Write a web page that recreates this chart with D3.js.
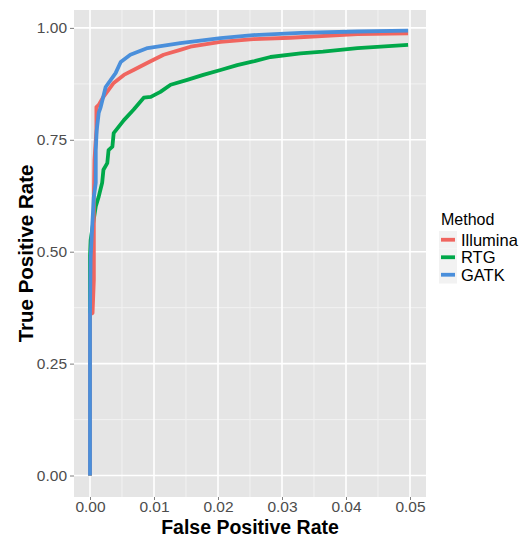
<!DOCTYPE html>
<html>
<head>
<meta charset="utf-8">
<script src="https://cdn.jsdelivr.net/npm/d3@7"></script>
<style>
  body { margin: 0; background: #fff; }
  text { font-family: "Liberation Sans", Arial, sans-serif; }
</style>
</head>
<body>
<script>
var width = 527;
var height = 538;

// ROC points: [false positive rate, true positive rate]
var methods = ["Illumina", "RTG", "GATK"];
var colors = ["#f0655f", "#00a84a", "#4a8fdb"];

var illumina = [
  [0, 0], [0, 0.36], [0.0004, 0.363], [0.0006, 0.437], [0.0006, 0.622], [0.0007, 0.705],
  [0.001, 0.772], [0.001, 0.823], [0.00136, 0.828], [0.0021, 0.846], [0.0037, 0.877],
  [0.0053, 0.895], [0.0068, 0.906], [0.009, 0.922], [0.0115, 0.94], [0.0141, 0.951],
  [0.0157, 0.958], [0.0204, 0.969], [0.0255, 0.975], [0.0313, 0.978], [0.0418, 0.986],
  [0.0497, 0.988]
];
var rtg = [
  [0, 0], [0, 0.49], [0.0001, 0.526], [0.0005, 0.564], [0.0009, 0.601], [0.00136, 0.623],
  [0.0019, 0.654], [0.0021, 0.683], [0.0027, 0.698], [0.0029, 0.727], [0.0035, 0.735],
  [0.0037, 0.765], [0.0053, 0.794], [0.0068, 0.817], [0.0084, 0.844], [0.0095, 0.846],
  [0.011, 0.857], [0.0126, 0.873], [0.0152, 0.884], [0.0177, 0.895], [0.0204, 0.906],
  [0.023, 0.917], [0.0255, 0.925], [0.0282, 0.935], [0.0329, 0.943], [0.0364, 0.947],
  [0.0418, 0.955], [0.0497, 0.962]
];
var gatk = [
  [0, 0], [0, 0.363], [0.0001, 0.488], [0.0004, 0.571], [0.0006, 0.622], [0.0009, 0.654],
  [0.0009, 0.727], [0.00105, 0.772], [0.00136, 0.81], [0.00167, 0.823], [0.00245, 0.868],
  [0.004, 0.899], [0.0048, 0.924], [0.0063, 0.94], [0.009, 0.955], [0.0141, 0.966],
  [0.0204, 0.977], [0.0255, 0.984], [0.0329, 0.989], [0.0418, 0.992], [0.0497, 0.994]
];

var xTicks = [0, 0.01, 0.02, 0.03, 0.04, 0.05];
var yTicks = [0, 0.25, 0.5, 0.75, 1];
var xMinor = [0.005, 0.015, 0.025, 0.035, 0.045];
var yMinor = [0.125, 0.375, 0.625, 0.875];

var series = [illumina, rtg, gatk];

var panel = {left: 74, right: 426, top: 10, bottom: 497};

var x = d3.scaleLinear().domain([-0.0025, 0.0525]).range([panel.left, panel.right]);
var y = d3.scaleLinear().domain([-0.048, 1.040]).range([panel.bottom, panel.top]);

var svg = d3.select("body").append("svg")
    .attr("width", width)
    .attr("height", height);

// panel background
svg.append("rect")
    .attr("x", panel.left)
    .attr("y", panel.top)
    .attr("width", panel.right - panel.left)
    .attr("height", panel.bottom - panel.top)
    .attr("fill", "#e5e5e5");

// minor grid
svg.selectAll(".vminor").data(xMinor).enter().append("line")
    .attr("x1", d => x(d)).attr("x2", d => x(d))
    .attr("y1", panel.top).attr("y2", panel.bottom)
    .attr("stroke", "#f2f2f2").attr("stroke-width", 1);
svg.selectAll(".hminor").data(yMinor).enter().append("line")
    .attr("x1", panel.left).attr("x2", panel.right)
    .attr("y1", d => y(d)).attr("y2", d => y(d))
    .attr("stroke", "#f2f2f2").attr("stroke-width", 1);

// major grid
svg.selectAll(".vmajor").data(xTicks).enter().append("line")
    .attr("x1", d => x(d)).attr("x2", d => x(d))
    .attr("y1", panel.top).attr("y2", panel.bottom)
    .attr("stroke", "#ffffff").attr("stroke-width", 1.6);
svg.selectAll(".hmajor").data(yTicks).enter().append("line")
    .attr("x1", panel.left).attr("x2", panel.right)
    .attr("y1", d => y(d)).attr("y2", d => y(d))
    .attr("stroke", "#ffffff").attr("stroke-width", 1.6);

// axes
var xAxis = svg.append("g")
    .attr("transform", "translate(0," + panel.bottom + ")")
    .call(d3.axisBottom(x).tickValues(xTicks).tickFormat(d3.format(".2f")).tickSize(3).tickPadding(1));
var yAxis = svg.append("g")
    .attr("transform", "translate(" + panel.left + ",0)")
    .call(d3.axisLeft(y).tickValues(yTicks).tickFormat(d3.format(".2f")).tickSize(4).tickPadding(3));

[xAxis, yAxis].forEach(function (g) {
    g.select(".domain").remove();
    g.selectAll(".tick line").attr("stroke", "#7f7f7f");
    g.selectAll(".tick text")
        .attr("fill", "#4d4d4d")
        .style("font-size", "15.5px")
        .style("font-family", "Liberation Sans, Arial, sans-serif");
});

// curves
var line = d3.line()
    .x(d => x(d[0]))
    .y(d => y(d[1]));

// draw in order: RTG, Illumina, GATK on top
[1, 0, 2].forEach(function (i) {
    svg.append("path")
        .datum(series[i])
        .attr("d", line)
        .attr("fill", "none")
        .attr("stroke", colors[i])
        .attr("stroke-width", 3.8)
        .attr("stroke-linejoin", "round");
});

// axis titles
svg.append("text")
    .text("False Positive Rate")
    .attr("x", (panel.left + panel.right) / 2)
    .attr("y", 533.5)
    .attr("text-anchor", "middle")
    .style("font-size", "19.5px")
    .style("font-weight", "bold");

svg.append("text")
    .text("True Positive Rate")
    .attr("transform", "translate(33," + ((panel.top + panel.bottom) / 2) + ") rotate(-90)")
    .attr("text-anchor", "middle")
    .style("font-size", "20.5px")
    .style("font-weight", "bold");

// legend
var legend = svg.append("g").attr("transform", "translate(439,0)");
legend.append("text")
    .text("Method")
    .attr("x", 2)
    .attr("y", 225)
    .style("font-size", "16px");

var keys = legend.selectAll(".key").data(methods).enter().append("g")
    .attr("transform", (d, i) => "translate(0," + (231 + i * 17.5) + ")");
keys.append("rect")
    .attr("width", 18).attr("height", 17.5)
    .attr("fill", "#f2f2f2");
keys.append("line")
    .attr("x1", 2).attr("x2", 16)
    .attr("y1", 8.75).attr("y2", 8.75)
    .attr("stroke", (d, i) => colors[i])
    .attr("stroke-width", 3.8);
keys.append("text")
    .text(d => d)
    .attr("x", 22)
    .attr("y", 14.5)
    .style("font-size", "16.5px");
</script>
</body>
</html>
